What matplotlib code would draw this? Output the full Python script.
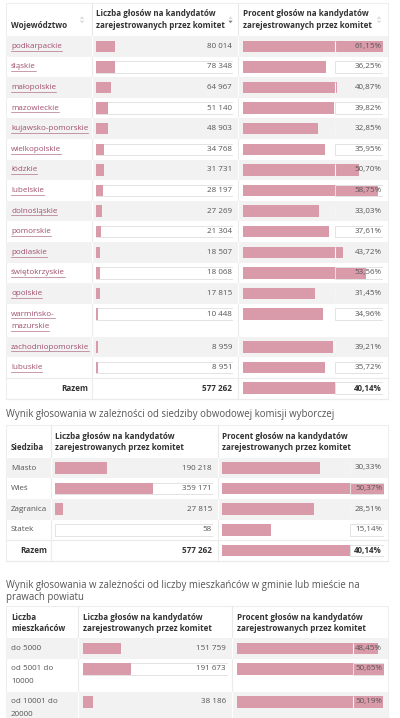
import matplotlib
matplotlib.use('Agg')
import matplotlib.pyplot as plt
from matplotlib.patches import Rectangle, Polygon

plt.rcParams['font.family'] = ['Open Sans', 'DejaVu Sans']

# ---------------- data ----------------
regions = ['podkarpackie', 'śląskie', 'małopolskie', 'mazowieckie', 'kujawsko-pomorskie',
           'wielkopolskie', 'łódzkie', 'lubelskie', 'dolnośląskie', 'pomorskie', 'podlaskie',
           'świętokrzyskie', 'opolskie', 'warmińsko-\nmazurskie', 'zachodniopomorskie', 'lubuskie']
region_votes = [80014, 78348, 64967, 51140, 48903, 34768, 31731, 28197, 27269, 21304,
                18507, 18068, 17815, 10448, 8959, 8951]
region_pct = [61.15, 36.25, 40.87, 39.82, 32.85, 35.95, 50.70, 58.75, 33.03, 37.61,
              43.72, 53.56, 31.45, 34.96, 39.21, 35.72]
total_votes = 577262
total_pct = 40.14

seats = ['Miasto', 'Wieś', 'Zagranica', 'Statek']
seat_votes = [190218, 359171, 27815, 58]
seat_pct = [30.33, 50.37, 28.51, 15.14]

size_labels = ['do 5000', 'od 5001 do\n10000', 'od 10001 do\n20000']
size_votes = [151759, 191673, 38186]
size_pct = [48.45, 50.65, 50.19]

total_label = 'Razem'
header_count = 'Liczba głosów na kandydatów\nzarejestrowanych przez komitet'
header_pct = 'Procent głosów na kandydatów\nzarejestrowanych przez komitet'
header_region = 'Województwo'
header_seat = 'Siedziba'
header_size = 'Liczba\nmieszkańców'
title2 = 'Wynik głosowania w zależności od siedziby obwodowej komisji wyborczej'
title3 = 'Wynik głosowania w zależności od liczby mieszkańców w gminie lub mieście na\nprawach powiatu'

# ---------------- style ----------------
W, H = 400, 718
PINK = '#d99aa9'
GREY_BG = '#f2f2f2'
LINK = '#a0506f'
TXT = '#555555'
HDR = '#333333'
BORDER = '#e3e3e3'
FS = 5.8
FS_H = 5.75
FS_T = 6.9
ROW_H = 20.6
LINE_H = 12.3
BAR_H = 11.5

fig = plt.figure(figsize=(W / 100, H / 100), dpi=100)
fig.patch.set_facecolor('white')


def layer(z):
    a = fig.add_axes([0, 0, 1, 1])
    a.set_xlim(0, W)
    a.set_ylim(H, 0)
    a.axis('off')
    a.patch.set_alpha(0)
    a.set_zorder(z)
    return a


bg = layer(0)    # backgrounds and grid lines
fg = layer(10)   # texts and icons, above the bar axes


def fmt_int(v):
    return f'{v:,}'.replace(',', ' ')


def fmt_pct(v):
    return f'{v:.2f}'.replace('.', ',') + '%'


def multiline(x, y, s, ha='left', color=TXT, bold=False, fs=FS, lh=LINE_H):
    texts = []
    for k, line in enumerate(s.split('\n')):
        t = fg.text(x, y + k * lh, line, ha=ha, va='center', fontsize=fs,
                    color=color, fontweight='bold' if bold else 'normal')
        texts.append(t)
    return texts


def sort_icon(x, y, active=False):
    up = Polygon([[x - 2.2, y - 0.8], [x + 2.2, y - 0.8], [x, y - 3.6]], closed=True,
                 facecolor='#dcdcdc', edgecolor='none')
    dn = Polygon([[x - 2.2, y + 0.8], [x + 2.2, y + 0.8], [x, y + 3.6]], closed=True,
                 facecolor='#8a8a8a' if active else '#dcdcdc', edgecolor='none')
    fg.add_patch(up)
    fg.add_patch(dn)


link_texts = []


def draw_table(spec):
    left, right = spec['left'], spec['right']
    c2, c3 = spec['col2'], spec['col3']
    top, hbot = spec['top'], spec['header_bottom']
    labels, votes, pcts = spec['labels'], spec['votes'], spec['pcts']

    # header
    hy = spec['header_y']
    lh = hy[1] - hy[0]
    multiline(left + 5, hy[1] if '\n' not in spec['h1'] else hy[0], spec['h1'],
              color=HDR, bold=True, fs=FS_H, lh=lh)
    multiline(spec['cbar0'], hy[0], header_count, color=HDR, bold=True, fs=FS_H, lh=lh)
    multiline(spec['pbar0'], hy[0], header_pct, color=HDR, bold=True, fs=FS_H, lh=lh)
    if spec.get('icons'):
        ym = (hy[0] + hy[1]) / 2
        sort_icon(c2 - 10, ym)
        sort_icon(c3 - 7.5, ym, active=True)
        sort_icon(right - 9, ym)

    # row layout
    rows = []
    y = hbot
    for lab in labels:
        n = lab.count('\n') + 1
        h = ROW_H + LINE_H * (n - 1)
        rows.append((y, h))
        y += h
    has_total = spec.get('total', False)
    if has_total:
        rows.append((y, ROW_H))
        y += ROW_H
    bottom = min(y, H + 2)

    # outer border and column separators
    bg.add_patch(Rectangle((left, top), right - left, bottom - top, facecolor='white',
                           edgecolor='#eeeeee', lw=0.8, zorder=0))
    for x in (c2, c3):
        bg.plot([x, x], [top, hbot], color='#e8e8e8', lw=0.8, zorder=1)

    greys = []
    for i, (ry, rh) in enumerate(rows):
        grey = (i % 2 == 0) and i < len(labels)
        greys.append(grey)
        if grey:
            bg.add_patch(Rectangle((left, ry), right - left, rh, facecolor=GREY_BG,
                                   edgecolor='none', zorder=1))
        for x in (c2, c3):
            bg.plot([x, x], [ry, ry + rh], color='white' if grey else '#ebebeb', lw=0.8, zorder=2)
        if i >= len(labels):
            bg.plot([left, right], [ry, ry], color='#ebebeb', lw=0.8, zorder=2)
            bg.plot([left, right], [ry + rh, ry + rh], color='#ebebeb', lw=0.8, zorder=2)

    # row texts
    for i, lab in enumerate(labels):
        ry, rh = rows[i]
        cy = ry + ROW_H / 2
        ts = multiline(left + 5, cy, lab, color=LINK if spec.get('links') else TXT)
        if spec.get('links'):
            link_texts.extend(ts)
        fg.text(spec['ctext'], cy, fmt_int(votes[i]), ha='right', va='center',
                fontsize=FS, color=TXT)
        fg.text(spec['ptext'], cy, fmt_pct(pcts[i]), ha='right', va='center',
                fontsize=FS, color=TXT)
    if has_total:
        ry, rh = rows[-1]
        cy = ry + rh / 2
        fg.text(c2 - 4, cy, total_label, ha='right', va='center', fontsize=FS_H,
                color=HDR, fontweight='bold')
        fg.text(spec['ctext'], cy, fmt_int(total_votes), ha='right', va='center',
                fontsize=FS, color=HDR, fontweight='bold')
        fg.text(spec['ptext'], cy, fmt_pct(total_pct), ha='right', va='center',
                fontsize=FS, color=HDR, fontweight='bold')

    # bar axes
    ybot = min(y, H)
    centers = [ry + ROW_H / 2 for ry, rh in rows[:len(labels)]]
    tot_center = rows[-1][0] + ROW_H / 2 if has_total else None

    def bar_axes(x0, x1, scale):
        ax = fig.add_axes([x0 / W, 1 - ybot / H, (x1 - x0) / W, (ybot - hbot) / H])
        ax.set_xlim(0, scale)
        ax.set_ylim(ybot, hbot)
        ax.axis('off')
        ax.patch.set_alpha(0)
        ax.set_zorder(3)
        return ax

    row_edges = ['none' if g else BORDER for g in greys[:len(labels)]]

    # counts column (scale = total votes)
    axc = bar_axes(spec['cbar0'], spec['cbar1'], total_votes)
    axc.barh(centers, [total_votes] * len(centers), height=BAR_H, facecolor='none',
             edgecolor=row_edges, lw=0.7, zorder=1)
    axc.barh(centers, votes, height=BAR_H, color=PINK, zorder=2)

    # percent column (scale = max value)
    pmax = max(pcts)
    axp = bar_axes(spec['pbar0'], spec['pbar1'], pmax)
    pc = centers + ([tot_center] if has_total else [])
    pv = list(pcts) + ([total_pct] if has_total else [])
    pedges = row_edges + ([BORDER] if has_total else [])
    axp.barh(pc, pv, height=BAR_H, color=PINK, zorder=2)
    box_start = (spec['pbox'] - spec['pbar0']) / (spec['pbar1'] - spec['pbar0']) * pmax
    axp.barh(pc, [pmax - box_start] * len(pc), left=box_start, height=BAR_H,
             facecolor='none', edgecolor=pedges, lw=0.7, zorder=3)
    grey_c = [c for c, e in zip(pc, pedges) if e == 'none']
    axp.vlines([box_start] * len(grey_c), [c - BAR_H / 2 for c in grey_c],
               [c + BAR_H / 2 for c in grey_c], color='#f6f6f6', lw=0.8, zorder=3)
    return y


# ---------- table 1 ----------
draw_table(dict(left=6, right=388, col2=92, col3=238, top=3, header_bottom=36,
                header_y=(14, 25.5), h1=header_region, labels=regions, votes=region_votes,
                pcts=region_pct, total=True, links=True, icons=True,
                cbar0=96, cbar1=233, ctext=232, pbar0=243, pbar1=383, pbox=335, ptext=381.5))

# ---------- table 2 ----------
multiline(6, 415, title2, color=TXT, fs=FS_T)
draw_table(dict(left=6, right=388, col2=51, col3=218, top=425, header_bottom=457.7,
                header_y=(436.7, 447.5), h1=header_seat, labels=seats, votes=seat_votes,
                pcts=seat_pct, total=True,
                cbar0=55, cbar1=213, ctext=212, pbar0=222.3, pbar1=384.3, pbox=350, ptext=382))

# ---------- table 3 ----------
multiline(6, 585.7, title3, color=TXT, fs=FS_T, lh=11.6)
draw_table(dict(left=6, right=388, col2=78, col3=232, top=606, header_bottom=638,
                header_y=(617.7, 628.5), h1=header_size, labels=size_labels, votes=size_votes,
                pcts=size_pct, total=False,
                cbar0=83, cbar1=227.5, ctext=226, pbar0=236.7, pbar1=384.3, pbox=353, ptext=382))

# underline links
fig.canvas.draw()
r = fig.canvas.get_renderer()
inv = fg.transData.inverted()
for t in link_texts:
    bb = t.get_window_extent(renderer=r)
    (x0, y0), (x1, y1) = inv.transform([[bb.x0, bb.y0], [bb.x1, bb.y1]])
    yy = t.get_position()[1] + 4.3
    fg.plot([x0, x1], [yy, yy], color=LINK, lw=0.5, alpha=0.8)

fig.savefig('out.png', dpi=100)
